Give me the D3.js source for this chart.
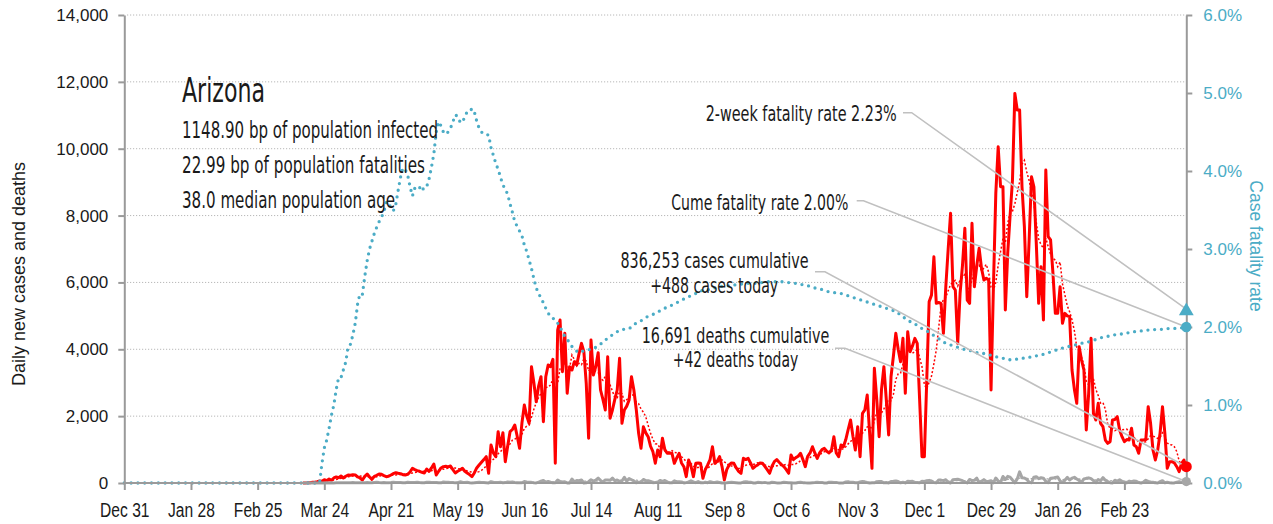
<!DOCTYPE html>
<html><head><meta charset="utf-8">
<script src="https://cdn.jsdelivr.net/npm/d3@7"></script>
<style>
html,body{margin:0;padding:0;background:#fff;}
svg{display:block;}
</style></head><body>
<svg id="chart" width="1273" height="524"></svg>
<script>
// ---------------- DATA ----------------
const stateName = "Arizona";
const statLines = ["1148.90 bp of population infected", "22.99 bp of population fatalities", "38.0 median population age"];
const axisStartDate = "2019-12-31";
const firstReportDate = "2020-03-15";   // first day of the daily series below
const cases = [
0,3,5,10,20,25,40,
60,50,100,70,120,80,150,180,160,209,
150,200,240,230,250,240,180,150,90,200,
270,180,110,200,230,270,260,220,190,200,
240,280,310,290,280,250,240,260,330,440,
400,370,350,320,300,418,350,450,568,240,
350,450,490,500,480,508,400,299,350,388,
440,350,300,250,190,300,450,538,620,700,
787,290,1136,900,787,1535,1086,1505,638,1100,
1535,1600,1735,1400,1037,1800,2333,2000,1785,3479,
3000,2432,2900,3180,1834,3180,3530,3479,3700,589,
4576,4875,3329,4477,2683,3479,3380,3629,3530,3879,
4178,3928,2982,1337,4277,3230,3479,3898,2782,2500,
2184,3778,1935,2184,2500,2782,3729,1785,2184,2300,
2483,3180,2782,2200,1486,1037,1684,1500,1385,1100,
937,589,987,787,1337,1000,888,900,888,589,
750,888,600,488,190,688,500,190,589,600,
589,140,400,540,700,1086,589,650,787,500,
90,400,540,600,589,450,350,290,738,700,
738,600,440,500,540,600,589,500,400,290,
500,638,700,620,550,490,400,290,837,700,
760,800,888,700,488,800,900,1086,900,738,
900,1000,1037,950,900,987,1385,900,787,1136,
1086,1300,1600,1884,1400,987,1684,787,2084,2184,
2632,1500,438,3430,2500,1385,2800,3479,2500,1436,
3180,3800,4477,4000,3629,4327,2683,4526,3928,4100,
4327,4178,2500,787,787,3081,5423,5623,6769,5374,
5400,5374,4477,5872,7000,8067,5872,5773,4178,5674,
6500,7618,5474,5374,7768,5872,6500,7020,6422,6072,
6123,6072,2782,5872,8665,10059,8862,8862,5175,6869,
8000,9063,11655,11157,11157,8862,7668,5573,7270,9162,
8862,7170,5374,6470,4875,9362,7368,7270,6271,5075,
5075,5872,4776,5075,5000,4975,3380,2800,2383,4077,
3679,3380,1585,2683,4327,2084,1884,2383,1785,1684,
1286,1187,1236,1884,1900,1983,1585,1385,1236,1300,
1286,1636,1137,1086,888,1286,1286,1300,2283,1785,
987,688,987,1500,2283,1486,438,638,638,600,
488,339,589,688,488];
const deaths = [
0,0,0,0,1,0,1,2,2,3,5,2,4,3,6,5,8,
4,8,9,7,12,10,6,8,11,10,15,9,7,14,20,12,11,17,6,8,14,22,17,13,15,8,10,25,14,18,
12,20,14,10,6,22,25,16,14,18,10,5,30,20,22,18,12,4,8,35,22,15,21,10,3,6,18,24,12,15,9,
3,40,25,15,17,20,8,12,32,25,30,18,10,5,7,45,32,25,19,10,3,20,56,78,25,45,23,6,9,88,
44,28,37,2,1,117,36,75,69,91,1,4,37,97,55,85,147,77,25,92,89,79,147,67,91,49,58,172,56,135,98,
62,9,20,28,106,73,70,46,10,13,15,76,45,77,36,5,7,66,40,40,31,1,11,32,66,35,11,41,8,4,21,
9,39,25,16,27,17,0,0,5,17,21,15,9,1,2,29,38,30,26,3,1,20,16,11,18,3,1,21,17,3,
1,8,26,17,6,4,3,0,15,24,11,5,3,1,9,12,22,17,18,2,0,24,23,14,18,3,1,1,30,40,20,
22,6,8,30,45,35,16,1,10,6,41,45,43,6,12,3,44,51,61,43,6,20,3,53,43,53,17,18,10,55,
48,68,79,59,14,4,87,87,70,99,21,2,97,107,112,92,70,26,3,106,73,80,146,16,50,100,46,55,70,5,150,
60,15,195,105,198,175,88,5,120,335,160,150,110,25,8,175,190,130,159,145,48,11,145,147,168,180,58,16,81,169,90,
147,170,118,75,22,120,140,154,129,70,9,106,68,160,85,43,10,3,82,58,95,50,31,3,56,38,60,53,
14,0,29,80,46,34,24,4,0,40,70,5,22,10,2,3,26,38,14,5,42];
// case fatality rate, %, same days as above (it was 0 from the axis start until then)
const cfrPct = [
0,0,0,0,0,0,0,0,
0.25,0.45,0.55,0.7,0.87,1.0,1.2,1.35,1.35,
1.45,1.55,1.75,1.78,1.9,2.05,2.3,2.43,2.42,2.65,
2.85,3.0,3.1,3.2,3.28,3.35,3.41,3.47,3.6,3.6,
3.52,3.49,3.57,3.75,3.92,4.04,4.02,3.95,3.8,3.68,
3.78,3.81,3.79,3.74,3.8,3.8,3.9,4.05,4.22,4.5,
4.63,4.58,4.5,4.47,4.5,4.55,4.63,4.72,4.7,4.63,
4.62,4.7,4.76,4.76,4.8,4.76,4.64,4.55,4.5,4.47,
4.47,4.46,4.3,4.2,4.1,4.02,3.92,3.82,3.77,3.7,
3.58,3.47,3.35,3.29,3.23,3.17,3.05,2.97,2.86,2.75,
2.62,2.5,2.43,2.37,2.31,2.24,2.18,2.13,2.11,2.1,
2.05,2.0,1.94,1.88,1.84,1.8,1.75,1.72,1.69,1.67,
1.68,1.7,1.71,1.71,1.71,1.72,1.74,1.76,1.78,1.81,
1.83,1.86,1.88,1.9,1.92,1.94,1.96,1.97,1.97,1.98,
1.98,2.0,2.03,2.05,2.06,2.08,2.1,2.12,2.14,2.15,
2.16,2.18,2.19,2.21,2.23,2.24,2.26,2.27,2.28,2.3,
2.31,2.33,2.34,2.36,2.37,2.39,2.4,2.42,2.43,2.44,
2.46,2.47,2.47,2.48,2.48,2.49,2.5,2.51,2.52,2.52,
2.53,2.53,2.53,2.54,2.54,2.54,2.55,2.55,2.55,2.55,
2.56,2.56,2.56,2.56,2.57,2.57,2.57,2.57,2.58,2.58,
2.58,2.58,2.58,2.58,2.58,2.58,2.57,2.57,2.57,2.56,
2.56,2.55,2.55,2.54,2.53,2.53,2.52,2.51,2.5,2.5,
2.49,2.48,2.47,2.46,2.45,2.45,2.44,2.44,2.43,2.43,
2.42,2.41,2.4,2.39,2.38,2.37,2.36,2.35,2.34,2.33,
2.32,2.31,2.3,2.29,2.28,2.27,2.26,2.25,2.24,2.23,
2.22,2.21,2.19,2.18,2.15,2.13,2.11,2.09,2.07,2.05,
2.04,2.02,2.0,1.98,1.97,1.95,1.93,1.91,1.89,1.87,
1.85,1.83,1.81,1.79,1.78,1.77,1.76,1.75,1.74,1.73,
1.72,1.71,1.71,1.7,1.69,1.68,1.67,1.67,1.66,1.66,
1.65,1.64,1.64,1.63,1.62,1.61,1.6,1.6,1.59,1.58,
1.58,1.58,1.58,1.59,1.59,1.6,1.6,1.61,1.61,1.62,
1.62,1.63,1.64,1.64,1.65,1.66,1.67,1.68,1.69,1.7,
1.71,1.72,1.73,1.74,1.75,1.75,1.76,1.77,1.77,1.78,
1.79,1.8,1.8,1.81,1.82,1.83,1.84,1.85,1.86,1.87,
1.87,1.88,1.89,1.89,1.9,1.9,1.91,1.91,1.92,1.92,
1.93,1.93,1.94,1.94,1.95,1.95,1.95,1.96,1.96,1.96,
1.96,1.97,1.97,1.97,1.97,1.97,1.98,1.98,1.98,1.98,
1.99,1.99,1.99,2.0,2.0];
const twoWeekCfr = 2.23;
const cumeCfr = 2.00;
const cumCases = 836253, todayCases = 488, cumDeaths = 16691, todayDeaths = 42;
const leftTicks = [0,2000,4000,6000,8000,10000,12000,14000];
const rightTicks = [0,1,2,3,4,5,6];
const xTickDates = ["2019-12-31","2020-01-28","2020-02-25","2020-03-24","2020-04-21","2020-05-19","2020-06-16","2020-07-14","2020-08-11","2020-09-08","2020-10-06","2020-11-03","2020-12-01","2020-12-29","2021-01-26","2021-02-23"];

// ---------------- CHART ----------------
const RED = "#ff0000", TEAL = "#4bacc6", GREY = "#a6a6a6", AX = "#9a9a9a", LEAD = "#c0c0c0";
const NARROW = "'Liberation Sans Narrow','Arial Narrow','DejaVu Sans Condensed',sans-serif";
const SANS = "'Liberation Sans',Arial,sans-serif";
const svg = d3.select("#chart");
const parse = d3.utcParse("%Y-%m-%d");
const t0 = parse(axisStartDate), tStart = parse(firstReportDate);
const days = cases.map((v, i) => d3.utcDay.offset(tStart, i));
const tEnd = days[days.length - 1];

const x = d3.scaleUtc().domain([t0, tEnd]).range([124.3, 1186.3]);
const yL = d3.scaleLinear().domain([0, 14000]).range([483, 15]);
const yR = d3.scaleLinear().domain([0, 6]).range([483, 15]);

// grid
svg.append("g").selectAll("line").data(leftTicks.filter(d => d > 0)).join("line")
  .attr("x1", 127).attr("x2", x(tEnd)).attr("y1", d => yL(d)).attr("y2", d => yL(d))
  .attr("stroke", "#b8b8b8").attr("stroke-width", 1).attr("stroke-dasharray", "1.2,1.8");

// full-day series for 7-day averages (zero before reporting started)
const allDays = d3.utcDay.range(t0, d3.utcDay.offset(tEnd, 1));
const lead = allDays.length - days.length;
const casesFull = allDays.map((d, i) => i < lead ? 0 : cases[i - lead]);
const deathsFull = allDays.map((d, i) => i < lead ? 0 : deaths[i - lead]);
const avg7 = arr => arr.map((v, i) => d3.mean(arr.slice(Math.max(0, i - 6), i + 1)));
const casesAvg = avg7(casesFull), deathsAvg = avg7(deathsFull);

const lineL = d3.line().x(d => x(d[0])).y(d => yL(d[1]));
const lineR = d3.line().x(d => x(d[0])).y(d => yR(d[1]));

// cases
svg.append("path").datum(days.map((d, i) => [d, cases[i]]))
  .attr("d", lineL).attr("fill", "none").attr("stroke", RED).attr("stroke-width", 3).attr("stroke-linejoin", "round");
svg.append("path").datum(allDays.map((d, i) => [d, casesAvg[i]]))
  .attr("d", lineL).attr("fill", "none").attr("stroke", RED).attr("stroke-width", 1.5).attr("stroke-dasharray", "2,2");
// deaths
svg.append("path").datum(days.map((d, i) => [d, deaths[i]]))
  .attr("d", lineL).attr("fill", "none").attr("stroke", GREY).attr("stroke-width", 3).attr("stroke-linejoin", "round");
svg.append("path").datum(allDays.map((d, i) => [d, deathsAvg[i]]))
  .attr("d", lineL).attr("fill", "none").attr("stroke", GREY).attr("stroke-width", 1.2).attr("stroke-dasharray", "2,2");
// case fatality rate (0 from axis start until reporting)
const cfrSeries = [[t0, 0]].concat(days.map((d, i) => [d, cfrPct[i]]));
svg.append("path").datum(cfrSeries)
  .attr("d", lineR).attr("fill", "none").attr("stroke", TEAL).attr("stroke-width", 3.3)
  .attr("stroke-linecap", "round").attr("stroke-dasharray", "0,6.8");

// axes
const gL = svg.append("g").attr("transform", `translate(${x(t0)},0)`)
  .call(d3.axisLeft(yL).tickValues(leftTicks).tickFormat(d3.format(",")).tickSize(6).tickSizeOuter(0).tickPadding(10));
const gR = svg.append("g").attr("transform", `translate(${x(tEnd)},0)`)
  .call(d3.axisRight(yR).tickValues(rightTicks).tickFormat(d => d.toFixed(1) + "%").tickSize(6).tickSizeOuter(0).tickPadding(11));
const gB = svg.append("g").attr("transform", `translate(0,${yL(0)})`)
  .call(d3.axisBottom(x).tickValues(xTickDates.map(parse)).tickFormat(d3.utcFormat("%b %-d")).tickSize(7).tickSizeOuter(0));
[gL, gR, gB].forEach(g => {
  g.select(".domain").attr("stroke", AX).attr("stroke-width", 2);
  g.selectAll(".tick line").attr("stroke", AX).attr("stroke-width", 2);
});
gL.selectAll("text").attr("font-family", SANS).attr("font-size", 17).attr("fill", "#1a1a1a");
gR.selectAll("text").attr("font-family", SANS).attr("font-size", 17).attr("fill", TEAL);
gB.selectAll("text").attr("font-family", SANS).attr("font-size", 19.5).attr("fill", "#1a1a1a")
  .attr("y", 33.7).attr("dy", null)
  .each(function () {   // condensed look: 80% of natural width
    const w = this.getComputedTextLength();
    d3.select(this).attr("textLength", w * 0.8).attr("lengthAdjust", "spacingAndGlyphs");
  });
gB.select(".domain").attr("d", `M${x(t0)},0H${x(tEnd)}`);

// axis titles
svg.append("text").attr("transform", `translate(25,274) rotate(-90)`).attr("text-anchor", "middle")
  .attr("font-family", SANS).attr("font-size", 18).attr("fill", "#1a1a1a").text("Daily new cases and deaths");
svg.append("text").attr("transform", `translate(1250,246) rotate(90)`).attr("text-anchor", "middle")
  .attr("font-family", SANS).attr("font-size", 17.5).attr("fill", TEAL).text("Case fatality rate");

// leader lines
const xe = x(tEnd);
const leaders = [
  [[903, 112.7], [911.7, 112.7], [xe, yR(twoWeekCfr)]],
  [[856.7, 200.7], [863.5, 200.7], [xe, yR(cumeCfr)]],
  [[815, 271.7], [825, 271.7], [xe, yL(todayCases)]],
  [[835, 348.3], [845, 348.3], [xe, yL(todayDeaths)]]
];
svg.append("g").selectAll("path").data(leaders).join("path")
  .attr("d", d3.line()).attr("fill", "none").attr("stroke", LEAD).attr("stroke-width", 1.6);

// end markers
svg.append("path").attr("d", d3.symbol(d3.symbolTriangle, 95)())
  .attr("transform", `translate(${xe},${yR(twoWeekCfr) + 2})`).attr("fill", TEAL);
svg.append("circle").attr("cx", xe).attr("cy", yR(cumeCfr)).attr("r", 5.2).attr("fill", TEAL);
svg.append("circle").attr("cx", xe).attr("cy", yL(todayCases)).attr("r", 5.5).attr("fill", RED);
svg.append("circle").attr("cx", xe).attr("cy", yL(todayDeaths)).attr("r", 4.6).attr("fill", GREY);

// texts
const fmt = d3.format(",");
function label(txt, xPos, yPos, size, width, anchor) {
  return svg.append("text").attr("x", xPos).attr("y", yPos).attr("text-anchor", anchor || "start")
    .attr("font-family", NARROW).attr("font-size", size).attr("fill", "#1a1a1a")
    .attr("textLength", width).attr("lengthAdjust", "spacingAndGlyphs").text(txt);
}
label(stateName, 182, 101.7, 34, 83);
label(statLines[0], 182, 138.3, 23, 256);
label(statLines[1], 182, 173, 23, 243);
label(statLines[2], 182, 208, 23, 213);
label(`2-week fatality rate ${twoWeekCfr.toFixed(2)}%`, 896.7, 120.7, 20.5, 191, "end");
label(`Cume fatality rate ${cumeCfr.toFixed(2)}%`, 848.3, 210, 20.5, 177, "end");
label(`${fmt(cumCases)} cases cumulative`, 714.5, 268.3, 20.5, 188, "middle");
label(`+${fmt(todayCases)} cases today`, 714.2, 293, 20.5, 128, "middle");
label(`${fmt(cumDeaths)} deaths cumulative`, 735.5, 343, 20.5, 187.6, "middle");
label(`+${fmt(todayDeaths)} deaths today`, 735.5, 367, 20.5, 125.6, "middle");
</script>
</body></html>
